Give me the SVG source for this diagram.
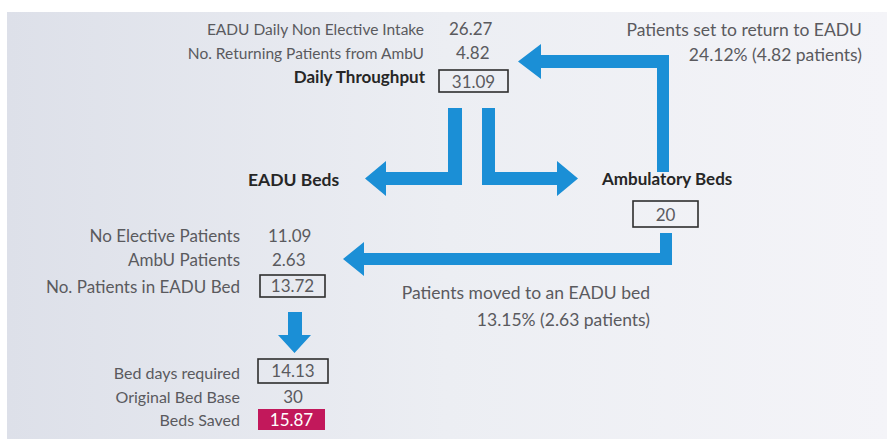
<svg xmlns="http://www.w3.org/2000/svg" width="887" height="439" viewBox="0 0 887 439">
<defs>
<linearGradient id="bg" x1="0" y1="0" x2="1" y2="0">
<stop offset="0" stop-color="#dde0e9"/>
<stop offset="0.5" stop-color="#eceef3"/>
<stop offset="1" stop-color="#f4f4f8"/>
</linearGradient>
<style>
.t{font-family:Lato,"Liberation Sans",sans-serif;font-size:17px;fill:#5a5a5e}
.s{font-size:15.5px}
.u{font-size:16px}
.r{text-anchor:end}
.m{text-anchor:middle}
.b{font-weight:bold;fill:#262626}
.box{fill:none;stroke:#2e2e2e;stroke-width:1.6}
.arr{fill:#1b8fd6}
</style>
</defs>
<rect x="0" y="0" width="887" height="439" fill="#ffffff"/>
<rect x="7" y="12" width="880" height="427" fill="url(#bg)"/>

<g id="connectors">
<polygon class="arr" points="518,61.5 541,44 541,55 669,55 669,172 657,172 657,68 541,68 541,79"/>
<polygon class="arr" points="365,178.5 386,161 386,172 448,172 448,108 462,108 462,185 386,185 386,196"/>
<polygon class="arr" points="578,178.5 557,161 557,172 495,172 495,108 482,108 482,185 557,185 557,196"/>
<polygon class="arr" points="343,259 364,242 364,253 660,253 660,233 672,233 672,265 364,265 364,276"/>
<polygon class="arr" points="288,312 302,312 302,335 311,335 294.5,353 278,335 288,335"/>
</g>

<g id="intake">
<text class="t s r" x="424" y="35">EADU Daily Non Elective Intake</text>
<text class="t" x="449" y="35">26.27</text>
<text class="t s r" x="424" y="59">No. Returning Patients from AmbU</text>
<text class="t" x="456" y="59">4.82</text>
<text class="t r b" x="425" y="83">Daily Throughput</text>
<rect class="box" x="439" y="70" width="69" height="22"/>
<text class="t m" x="473.5" y="87.5">31.09</text>
</g>

<g id="return-label">
<text class="t r" x="862" y="36" style="font-size:17.5px">Patients set to return to EADU</text>
<text class="t r" x="862" y="61" style="font-size:17.5px">24.12% (4.82 patients)</text>
</g>

<g id="eadu-beds">
<text class="t b" x="248" y="186" style="font-size:17.5px">EADU Beds</text>
</g>

<g id="ambulatory-beds">
<text class="t b" x="602" y="185">Ambulatory Beds</text>
<rect class="box" x="633" y="201" width="65" height="26"/>
<text class="t m" x="665.5" y="220.5">20</text>
</g>

<g id="moved-label">
<text class="t r" x="650" y="299" style="font-size:17.5px">Patients moved to an EADU bed</text>
<text class="t r" x="650" y="326" style="font-size:17.5px">13.15% (2.63 patients)</text>
</g>

<g id="eadu-patients">
<text class="t r" x="240" y="242">No Elective Patients</text>
<text class="t" x="268" y="242">11.09</text>
<text class="t r" x="240" y="266">AmbU Patients</text>
<text class="t" x="272" y="266">2.63</text>
<text class="t r" x="240" y="293">No. Patients in EADU Bed</text>
<rect class="box" x="260" y="275" width="65" height="22"/>
<text class="t m" x="292.5" y="292">13.72</text>
</g>

<g id="beds-saved">
<text class="t u r" x="240" y="379">Bed days required</text>
<rect class="box" x="258" y="359" width="70" height="24"/>
<text class="t m" x="293" y="377">14.13</text>
<text class="t u r" x="240" y="403">Original Bed Base</text>
<text class="t m" x="293" y="403">30</text>
<text class="t u r" x="240" y="426">Beds Saved</text>
<rect x="258" y="409" width="67" height="21" fill="#c2185b"/>
<text class="t m" x="291.5" y="426" style="fill:#ffffff">15.87</text>
</g>
</svg>
